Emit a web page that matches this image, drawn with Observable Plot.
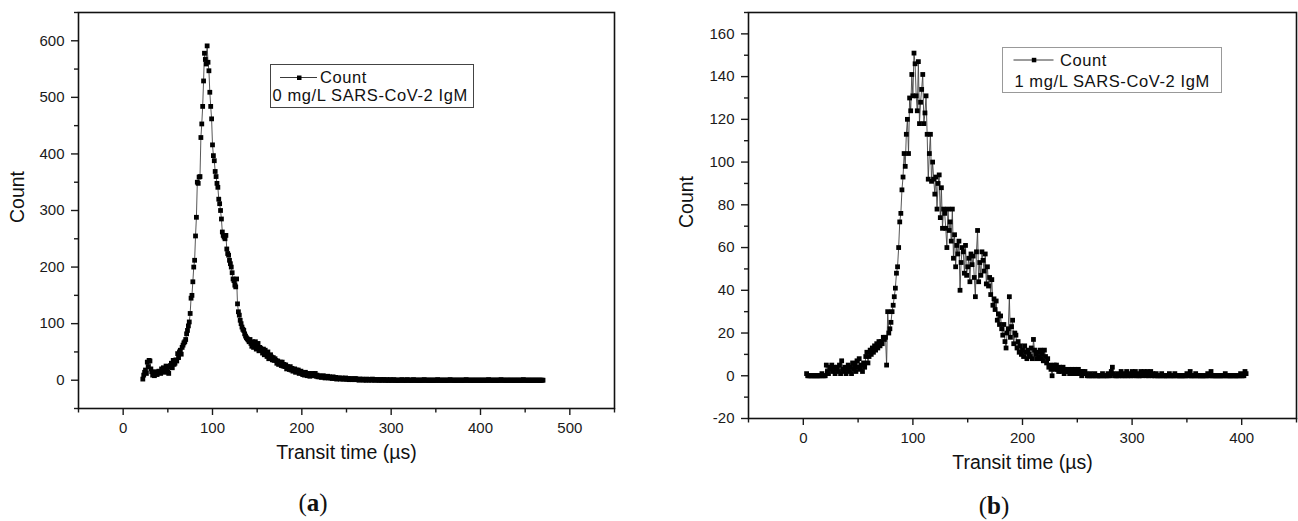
<!DOCTYPE html>
<html>
<head>
<meta charset="utf-8">
<script src="https://cdn.jsdelivr.net/npm/d3@7"></script>
<script src="https://cdn.jsdelivr.net/npm/@observablehq/plot@0.6"></script>
<style>
  html, body { margin: 0; padding: 0; background: #fff; }
  body { position: relative; width: 1298px; height: 521px; overflow: hidden; font-family: 'Liberation Sans', Arial, sans-serif; }
  .panel { position: absolute; top: 0; }
  .legend { position: absolute; overflow: visible; }
  .legend text { font-family: 'Liberation Sans', Arial, sans-serif; font-size: 16.5px; letter-spacing: 0.6px; fill: #111; }
  .cap { position: absolute; width: 100px; text-align: center; font-family: 'Liberation Serif', 'DejaVu Serif', serif; font-size: 25px; line-height: 30px; color: #111; }
</style>
</head>
<body>
<div id="pa" class="panel" style="left:0px;"></div>
<div id="pb" class="panel" style="left:650px;"></div>

<svg class="legend" style="left:270px; top:64px;" width="204" height="45">
  <rect x="0.5" y="0.5" width="203" height="43" fill="#fff" stroke="#444" stroke-width="1"></rect>
  <line x1="10" x2="47" y1="13.5" y2="13.5" stroke="#222" stroke-width="0.9"></line>
  <rect x="27" y="11.5" width="4.5" height="4.5" fill="#000"></rect>
  <text x="50" y="18.5">Count</text>
  <text x="2.5" y="37">0 mg/L SARS-CoV-2 IgM</text>
</svg>

<svg class="legend" style="left:1002px; top:47px;" width="221" height="47">
  <rect x="0.5" y="0.5" width="219" height="45" fill="#fff" stroke="#999" stroke-width="1"></rect>
  <line x1="11.5" x2="51.5" y1="13" y2="13" stroke="#222" stroke-width="0.9"></line>
  <rect x="29.8" y="10.8" width="4.5" height="4.5" fill="#000"></rect>
  <text x="58" y="18.7">Count</text>
  <text x="12.4" y="40.3">1 mg/L SARS-CoV-2 IgM</text>
</svg>

<div class="cap" style="left:263px; top:488px;">(<b>a</b>)</div>
<div class="cap" style="left:944px; top:491px;">(<b>b</b>)</div>

<script>
// ---------------- data ----------------
// Panel (a): 0 mg/L SARS-CoV-2 IgM — counts per 1 µs bin, starting at 22 µs
const aStart = 22;
const aCounts = [
  2, 9, 14, 18, 12, 32, 24, 35, 34,
  20, 15, 9, 12, 8, 12, 15, 10, 14, 16,
  15, 12, 20, 18, 22, 20, 14, 25, 18, 15,
  12, 24, 26, 30, 22, 35, 28, 30, 36, 34,
  47, 40, 50, 53, 46, 58, 62, 66, 68, 72,
  82, 88, 96, 103, 118, 145, 150, 174, 200, 212,
  255, 288, 350, 348, 359, 360, 429, 453, 484, 529,
  578, 567, 559, 591, 562, 547, 509, 484, 462, 416,
  397, 388, 369, 360, 348, 341, 320, 312, 300, 285,
  262, 256, 253, 250, 256, 232, 224, 221, 212, 206,
  200, 190, 179, 176, 168, 165, 179, 135, 121, 115,
  106, 100, 94, 90, 88, 82, 78, 75, 73, 71,
  68, 72, 65, 60, 68, 58, 64, 68, 55, 62,
  65, 52, 58, 56, 53, 48, 55, 45, 53, 47,
  42, 50, 38, 41, 45, 41, 36, 40, 35, 38,
  35, 30, 34, 28, 29, 32, 26, 32, 25, 28,
  24, 27, 20, 24, 22, 19, 24, 18, 21, 16,
  18, 20, 14, 18, 15, 18, 12, 14, 16, 12,
  10, 12, 9, 14, 12, 8, 10, 12, 7, 11,
  9, 12, 8, 10, 12, 7, 9, 6, 8, 6,
  7, 5, 6, 8, 6, 4, 6, 5, 7, 4,
  6, 4, 5, 3, 6, 4, 3, 5, 2, 4,
  3, 4, 2, 3, 4, 2, 3, 2, 4, 2,
  2, 3, 1, 2, 3, 1, 2, 1, 2, 3,
  1, 2, 1, 0, 2, 1, 1, 2, 0, 1,
  1, 0, 2, 1, 0, 1, 1, 0, 2, 1,
  0, 1, 0, 1, 1, 0, 0, 1, 0, 1,
  0, 1, 0, 0, 1, 0, 0, 0, 1, 0,
  0, 0, 1, 0, 0, 0, 0, 0, 0, 0,
  0, 1, 0, 0, 0, 0, 0, 1, 0, 0,
  0, 0, 0, 0, 1, 0, 0, 0, 0, 0,
  0, 0, 0, 0, 0, 0, 1, 0, 0, 0,
  0, 0, 0, 0, 0, 0, 0, 0, 0, 0,
  0, 1, 0, 0, 0, 0, 0, 0, 0, 0,
  0, 0, 0, 0, 0, 1, 0, 0, 0, 0,
  0, 0, 0, 0, 0, 0, 0, 0, 0, 0,
  0, 0, 0, 1, 0, 0, 0, 0, 0, 0,
  0, 0, 0, 0, 0, 0, 0, 0, 0, 0,
  0, 0, 0, 0, 0, 0, 0, 0, 1, 0,
  0, 0, 0, 0, 0, 0, 0, 0, 0, 0,
  0, 0, 1, 0, 0, 0, 0, 0, 0, 0,
  0, 0, 0, 0, 0, 0, 0, 0, 0, 0,
  0, 0, 0, 0, 0, 0, 0, 1, 0, 0,
  0, 0, 0, 0, 0, 0, 0, 0, 0, 0,
  0, 0, 0, 0, 0, 0, 0, 0, 0, 0
];

// Panel (b): 1 mg/L SARS-CoV-2 IgM — counts per 1 µs bin, starting at 3 µs
const bStart = 3;
const bCounts = [
  1, 0, 0, 0, 0, 0, 0, 0,
  0, 0, 0, 0, 0, 0, 1, 0, 0, 0,
  5, 2, 1, 4, 3, 5, 2, 4, 1, 3,
  4, 2, 5, 1, 7, 3, 2, 4, 1, 3,
  5, 2, 4, 1, 6, 3, 5, 2, 7, 4,
  8, 3, 5, 2, 6, 4, 9, 11, 6, 9,
  12, 10, 13, 11, 14, 12, 15, 13, 16, 14,
  16, 15, 18, 17, 18, 5, 30, 20, 22, 25,
  30, 33, 37, 41, 48, 51, 60, 72, 76, 87,
  93, 104, 98, 113, 120, 104, 130, 124, 141, 131,
  151, 146, 131, 124, 147, 118, 128, 134, 141, 118,
  123, 131, 113, 92, 104, 113, 91, 100, 92, 85,
  93, 78, 90, 94, 74, 88, 69, 78, 76, 69,
  60, 78, 68, 72, 63, 78, 55, 66, 51, 61,
  57, 63, 40, 53, 60, 58, 48, 61, 47, 51,
  55, 44, 57, 52, 56, 46, 37, 58, 68, 44,
  53, 47, 58, 54, 49, 57, 43, 51, 42, 46,
  38, 45, 33, 36, 31, 35, 26, 29, 24, 28,
  22, 19, 24, 16, 13, 20, 22, 37, 18, 23,
  26, 15, 20, 19, 13, 16, 11, 14, 10, 12,
  9, 14, 11, 8, 12, 10, 9, 13, 8, 17,
  12, 10, 8, 11, 9, 12, 8, 10, 7, 12,
  9, 6, 8, 4, 5, 3, 0, 4, 5, 3,
  5, 3, 2, 4, 2, 3, 4, 1, 3, 2,
  2, 3, 1, 2, 3, 1, 2, 3, 1, 2,
  3, 1, 2, 0, 2, 1, 2, 1, 0, 0,
  0, 1, 0, 0, 0, 1, 0, 0, 0, 0,
  0, 0, 1, 0, 0, 0, 0, 1, 0, 0,
  2, 4, 1, 0, 0, 0, 1, 0, 0, 2,
  0, 1, 0, 0, 2, 0, 1, 0, 0, 2,
  1, 0, 2, 0, 1, 0, 0, 2, 0, 1,
  2, 1, 0, 2, 0, 1, 2, 0, 1, 0,
  0, 1, 0, 0, 0, 0, 1, 0, 0, 0,
  0, 0, 0, 1, 0, 0, 0, 0, 1, 0,
  0, 0, 0, 0, 0, 0, 0, 0, 0, 1,
  0, 0, 2, 0, 0, 0, 0, 1, 0, 0,
  0, 0, 0, 0, 0, 0, 0, 0, 1, 0,
  0, 2, 0, 0, 0, 0, 0, 0, 0, 0,
  0, 0, 0, 0, 1, 0, 0, 0, 0, 0,
  0, 0, 0, 0, 0, 0, 0, 0, 1, 0,
  0, 0, 2, 1
];

// axis ticks
const aXMajor = [0, 100, 200, 300, 400, 500];
const aXMinor = [-50, 50, 150, 250, 350, 450, 550];
const aYMajor = [0, 100, 200, 300, 400, 500, 600];
const aYMinor = [-50, 50, 150, 250, 350, 450, 550, 650];

const bXMajor = [0, 100, 200, 300, 400];
const bXMinor = [-50, 50, 150, 250, 350, 450];
const bYMajor = [-20, 0, 20, 40, 60, 80, 100, 120, 140, 160];
const bYMinor = [-10, 10, 30, 50, 70, 90, 110, 130, 150, 170];

const xTitle = "Transit time (µs)";
const yTitle = "Count";

// ---------------- drawing ----------------
function toRows(start, counts) {
  return counts.map((c, i) => ({t: start + i, count: c}));
}

function panel(o) {
  const data = toRows(o.start, o.counts);
  return Plot.plot({
    width: o.width,
    height: o.height,
    marginLeft: o.ml, marginRight: o.mr, marginTop: o.mt, marginBottom: o.mb,
    style: {fontFamily: "'Liberation Sans', Arial, sans-serif", fontSize: "15px", color: "#1a1a1a", background: "transparent", overflow: "visible"},
    x: {domain: o.xDomain},
    y: {domain: o.yDomain},
    marks: [
      Plot.axisX({ticks: o.xMinor, tickSize: 4.5, tickFormat: () => "", label: null, strokeWidth: 1.4}),
      Plot.axisX({ticks: o.xMajor, tickSize: 7, tickPadding: 7, tickFormat: d => String(d), label: null, strokeWidth: 1.4}),
      Plot.axisY({ticks: o.yMinor, tickSize: 4, tickFormat: () => "", label: null, strokeWidth: 1.4}),
      Plot.axisY({ticks: o.yMajor, tickSize: 7, tickPadding: 7, tickFormat: d => String(d), label: null, strokeWidth: 1.4}),
      Plot.line(data, {x: "t", y: "count", stroke: "#444", strokeWidth: 0.9}),
      Plot.dot(data, {x: "t", y: "count", symbol: "square", r: 2.7, fill: "#000", stroke: "none"}),
      Plot.frame({stroke: "#111", strokeWidth: 1.6}),
      Plot.text([yTitle], {text: d => d, frameAnchor: "left", dx: o.countDx, dy: o.countDy, rotate: -90, fontSize: 19.5, fill: "#111"}),
      Plot.text([xTitle], {text: d => d, frameAnchor: "bottom", dy: o.titleDy, fontSize: 19.5, fill: "#111"})
    ]
  });
}

document.getElementById("pa").append(panel({
  start: aStart, counts: aCounts,
  width: 640, height: 480, ml: 78, mr: 26, mt: 12, mb: 72,
  xDomain: [-50, 550], yDomain: [-50, 650],
  xMajor: aXMajor, xMinor: aXMinor, yMajor: aYMajor, yMinor: aYMinor,
  countDx: -60.5, countDy: 12.5, titleDy: 50.5
}));

document.getElementById("pb").append(panel({
  start: bStart, counts: bCounts,
  width: 648, height: 480, ml: 98, mr: 2, mt: 12, mb: 62,
  xDomain: [-50, 450], yDomain: [-20, 170],
  xMajor: bXMajor, xMinor: bXMinor, yMajor: bYMajor, yMinor: bYMinor,
  countDx: -62, countDy: 12.5, titleDy: 50.5
}));
</script>
</body>
</html>
